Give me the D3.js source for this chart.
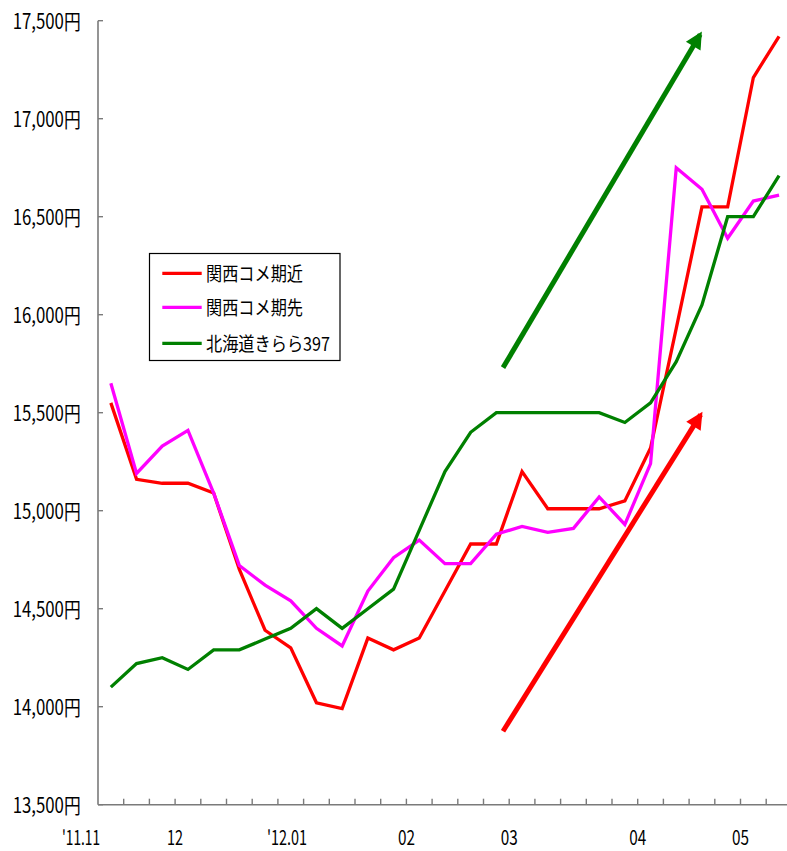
<!DOCTYPE html>
<html>
<head>
<meta charset="utf-8">
<script src="https://cdn.jsdelivr.net/npm/d3@7"></script>
<style>
  html, body { margin: 0; padding: 0; background: #fff; }
  svg { display: block; }
  text { font-family: "Noto Sans CJK JP", "Noto Sans", sans-serif; fill: #000; }
</style>
</head>
<body>
<svg id="chart" width="787" height="851"></svg>
<script>
// Weekly rice futures prices (円 per 60kg), Nov 2011 – May 2012
const weeks = d3.range(27);

const kansaiNear = [15550, 15160, 15140, 15140, 15090, 14700, 14390, 14300, 14020, 13990,
                    14350, 14290, 14350, 14590, 14830, 14830, 15200, 15010, 15010, 15010,
                    15050, 15320, 15930, 16550, 16550, 17210, 17420];
const kansaiFar  = [15650, 15190, 15330, 15410, 15090, 14720, 14620, 14540, 14400, 14310,
                    14590, 14760, 14850, 14730, 14730, 14880, 14920, 14890, 14910, 15070,
                    14930, 15240, 16750, 16640, 16390, 16580, 16610];
const kirara     = [14100, 14220, 14250, 14190, 14290, 14290, 14345, 14400, 14500, 14400,
                    14500, 14600, 14900, 15200, 15400, 15500, 15500, 15500, 15500, 15500,
                    15450, 15550, 15760, 16050, 16500, 16500, 16710];

const seriesNames  = ["関西コメ期近", "関西コメ期先", "北海道きらら397"];
const seriesValues = [kansaiNear, kansaiFar, kirara];
const seriesColors = ["#ff0000", "#ff00ff", "#008000"];

// y-axis ticks
const yTicks = d3.range(13500, 17501, 500);

// month labels and the week boundary each one sits on
const monthLabels    = ["'11.11", "12", "'12.01", "02", "03", "04", "05"];
const monthBoundary  = [-0.66, 3, 7.35, 12, 16, 21, 25];
const monthLabelWide = [38, 16, 40, 17, 17, 17, 17];

// trend arrows: start (week, price) → end (week, price)
const trendArrows = [
  { from: [15.26, 15730], to: [22.93, 17430], color: "#008000" },
  { from: [15.26, 13875], to: [22.95, 15490], color: "#ff0000" }
];

const svg = d3.select("#chart");
const plotLeft = 98, plotBottom = 804.7, plotTop = 20.7;
const band = 25.7;

const x = d3.scaleBand().domain(weeks).range([plotLeft, plotLeft + band * weeks.length]).padding(0);
const xc = d3.scaleLinear().domain([-0.5, weeks.length - 0.5]).range([plotLeft, plotLeft + band * weeks.length]);
const y = d3.scaleLinear().domain([13500, 17500]).range([plotBottom, plotTop]);

// arrow markers
const defs = svg.append("defs");
trendArrows.forEach((a, i) => {
  defs.append("marker")
    .attr("id", "arrow" + i)
    .attr("viewBox", "0 0 10 10")
    .attr("refX", 8).attr("refY", 5)
    .attr("markerUnits", "userSpaceOnUse")
    .attr("markerWidth", 19).attr("markerHeight", 17)
    .attr("orient", "auto")
    .append("path")
    .attr("d", "M0,0 L10,5 L0,10 Z")
    .attr("fill", a.color);
});

// axes
const axisColor = "#7a7a7a";
svg.append("line")
  .attr("x1", plotLeft).attr("x2", plotLeft).attr("y1", plotTop).attr("y2", plotBottom)
  .attr("stroke", axisColor).attr("stroke-width", 1.6);
svg.append("line")
  .attr("x1", plotLeft).attr("x2", 790).attr("y1", plotBottom).attr("y2", plotBottom)
  .attr("stroke", axisColor).attr("stroke-width", 1.6);

// y ticks (pointing inward) and labels
svg.selectAll(".ytick").data(yTicks).enter().append("line")
  .attr("x1", plotLeft).attr("x2", plotLeft + 5)
  .attr("y1", d => y(d)).attr("y2", d => y(d))
  .attr("stroke", axisColor).attr("stroke-width", 1.4);
svg.selectAll(".ylab").data(yTicks).enter().append("text")
  .attr("x", 12.7).attr("y", d => y(d) + 8.5)
  .attr("font-size", 21)
  .attr("textLength", 68).attr("lengthAdjust", "spacingAndGlyphs")
  .text(d => d3.format(",")(d) + "円");

// x ticks at week boundaries (pointing inward)
const boundaries = d3.range(1, weeks.length);
svg.selectAll(".xtick").data(boundaries).enter().append("line")
  .attr("x1", d => x(d)).attr("x2", d => x(d))
  .attr("y1", plotBottom).attr("y2", plotBottom - 6)
  .attr("stroke", axisColor).attr("stroke-width", 1.4);

// month labels
svg.selectAll(".xlab").data(monthLabels).enter().append("text")
  .attr("x", (d, i) => xc(monthBoundary[i] - 0.5) - monthLabelWide[i] / 2)
  .attr("y", 845)
  .attr("font-size", 20)
  .attr("textLength", (d, i) => monthLabelWide[i]).attr("lengthAdjust", "spacingAndGlyphs")
  .text(d => d);

// series lines
const line = d3.line().x((d, i) => xc(i)).y(d => y(d));
seriesValues.forEach((vals, k) => {
  svg.append("path")
    .datum(vals)
    .attr("d", line)
    .attr("fill", "none")
    .attr("stroke", seriesColors[k])
    .attr("stroke-width", 3.3)
    .attr("stroke-linejoin", "miter");
});

// trend arrows
trendArrows.forEach((a, i) => {
  svg.append("line")
    .attr("x1", xc(a.from[0])).attr("y1", y(a.from[1]))
    .attr("x2", xc(a.to[0])).attr("y2", y(a.to[1]))
    .attr("stroke", a.color).attr("stroke-width", 5)
    .attr("marker-end", "url(#arrow" + i + ")");
});

// legend
const lg = svg.append("g");
lg.append("rect")
  .attr("x", 149.5).attr("y", 253.5).attr("width", 190.5).attr("height", 107)
  .attr("fill", "#fff").attr("stroke", "#000").attr("stroke-width", 1.2);
const legendRows = [273.3, 307.3, 343.3];
const legendWide = [97, 97, 124];
seriesNames.forEach((name, k) => {
  lg.append("line")
    .attr("x1", 162.3).attr("x2", 201.7)
    .attr("y1", legendRows[k]).attr("y2", legendRows[k])
    .attr("stroke", seriesColors[k]).attr("stroke-width", 3.3);
  lg.append("text")
    .attr("x", 206).attr("y", legendRows[k] + 7.5)
    .attr("font-size", 19)
    .attr("textLength", legendWide[k]).attr("lengthAdjust", "spacingAndGlyphs")
    .text(name);
});
</script>
</body>
</html>
